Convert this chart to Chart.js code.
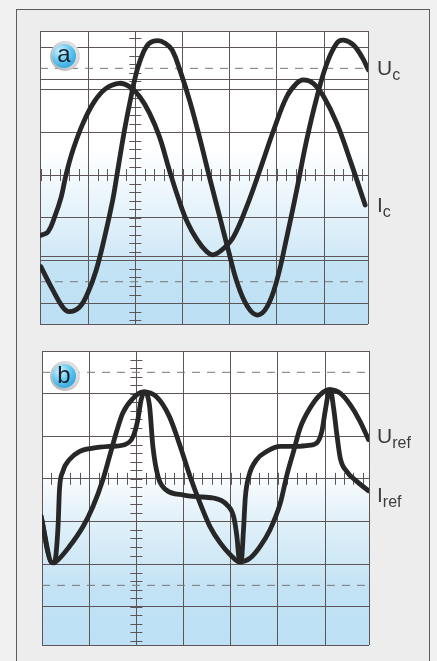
<!DOCTYPE html>
<html>
<head>
<meta charset="utf-8">
<script src="https://cdn.jsdelivr.net/npm/chart.js@4.4.0/dist/chart.umd.min.js"></script>
<style>
  html, body { margin: 0; padding: 0; }
  body { width: 437px; height: 661px; background: #f1f1f1; position: relative; overflow: hidden;
         font-family: "Liberation Sans", Arial, sans-serif; }
  #frame { position: absolute; left: 16px; top: 9px; width: 412px; height: 700px;
           border: 1px solid #5c5c5c; background: #ededee; }
  .scope { position: absolute; }
  .lbl { position: absolute; font-size: 21px; line-height: 21px; color: #3d3d3d; white-space: nowrap; }
  .lbl span { font-size: 16px; position: relative; top: 5px; }
  .badge { position: absolute; width: 30px; height: 30px; border-radius: 50%; z-index: 5;
           background: radial-gradient(circle at 60% 40%, #f6f6f6 0%, #d2d2d2 55%, #8e8e8e 100%); }
  .badge .core { position: absolute; left: 2px; top: 3px; width: 24px; height: 24px; border-radius: 50%;
           background: radial-gradient(circle at 35% 30%, #d4f3ff 0%, #62c7f0 45%, #1590d3 100%);
           display: flex; align-items: center; justify-content: center;
           font-size: 24px; color: #17232f; }
</style>
</head>
<body>
<div id="frame"></div>

<div class="scope" style="left:30px; top:21px; width:348px; height:313px;"><canvas id="scopeA"></canvas></div>
<div class="scope" style="left:32px; top:341px; width:347px; height:314px;"><canvas id="scopeB"></canvas></div>

<div class="badge" style="left:50px; top:41px;"><div class="core"><b style="font-weight:normal; margin-top:-4px;">a</b></div></div>
<div class="badge" style="left:50px; top:361px;"><div class="core"><b style="font-weight:normal; margin-top:-2px;">b</b></div></div>

<div class="lbl" style="left:377px; top:57px;">U<span>c</span></div>
<div class="lbl" style="left:377px; top:194px;">I<span>c</span></div>
<div class="lbl" style="left:377px; top:425px;">U<span>ref</span></div>
<div class="lbl" style="left:377px; top:484px;">I<span>ref</span></div>

<script>
// Oszilloskop-Bilder: x und y in Skalenteilen (Division), y = 0 ist die Mittellinie

// --- Bild a: Kondensator ---
const ucX = [0.00, 0.25, 0.46, 0.60, 0.82, 0.99, 1.17, 1.35, 1.52, 1.61, 1.77, 1.91, 2.02, 2.16, 2.30, 2.48, 2.63, 2.78, 2.95, 3.16,
             3.37, 3.58, 3.80, 3.97, 4.16, 4.37, 4.58, 4.79, 5.00, 5.21, 5.42, 5.63, 5.85, 6.06, 6.27, 6.41, 6.62, 6.80, 6.94];
const ucY = [-2.15, -2.69, -3.09, -3.20, -3.09, -2.77, -2.23, -1.45, -0.59, 0.00, 1.05, 1.84, 2.39, 2.85, 3.09, 3.15, 3.09, 2.93, 2.44, 1.71,
             0.84, -0.09, -1.03, -1.76, -2.53, -3.07, -3.28, -3.09, -2.46, -1.45, -0.35, 0.82, 1.84, 2.62, 3.09, 3.16, 3.05, 2.77, 2.46];

const icX = [0.00, 0.15, 0.29, 0.43, 0.53, 0.68, 0.89, 1.13, 1.38, 1.66, 1.88, 2.09, 2.30, 2.51, 2.72, 2.91, 3.10, 3.31, 3.50, 3.65,
             3.87, 4.08, 4.36, 4.64, 4.93, 5.21, 5.42, 5.56, 5.77, 5.99, 6.27, 6.55, 6.87];
const icY = [-1.41, -1.33, -0.98, -0.51, 0.00, 0.59, 1.21, 1.72, 2.03, 2.15, 2.07, 1.84, 1.45, 0.90, 0.12, -0.54, -1.10, -1.52, -1.78, -1.87,
             -1.72, -1.45, -0.74, 0.12, 1.05, 1.84, 2.15, 2.23, 2.15, 1.84, 1.21, 0.35, -0.70];

// --- Bild b: Referenz ---
const urefX = [-0.02, 0.22, 0.30, 0.58, 0.87, 1.08, 1.29, 1.43, 1.57, 1.71, 1.93, 2.14, 2.42, 2.70, 2.93, 3.14, 3.35, 3.56, 3.78, 3.99,
               4.18, 4.41, 4.62, 4.83, 5.05, 5.19, 5.33, 5.47, 5.68, 5.89, 6.09, 6.32, 6.53, 6.74, 6.92];
const urefY = [-0.88, -1.97, -1.94, -1.59, -1.12, -0.65, -0.02, 0.52, 1.07, 1.54, 1.89, 2.04, 1.93, 1.46, 0.76, 0.05, -0.57, -1.12, -1.51, -1.78,
               -1.95, -1.86, -1.59, -1.20, -0.57, 0.09, 0.64, 1.19, 1.66, 1.97, 2.09, 2.01, 1.74, 1.35, 0.92];

const irefX = [-0.02, 0.19, 0.26, 0.34, 0.37, 0.44, 0.58, 0.79, 1.08, 1.43, 1.75, 1.93, 2.03, 2.10, 2.17, 2.28, 2.35, 2.46, 2.63, 3.00,
               3.28, 3.63, 3.92, 4.06, 4.13, 4.18, 4.22, 4.27, 4.31, 4.38, 4.55, 4.76, 5.05, 5.33, 5.61, 5.82, 5.93, 6.00, 6.07, 6.11,
               6.18, 6.25, 6.32, 6.46, 6.67, 6.92];
const irefY = [-0.88, -1.95, -1.97, -1.12, -0.26, 0.17, 0.45, 0.64, 0.72, 0.76, 0.80, 0.99, 1.38, 1.85, 2.04, 1.70, 0.76, 0.05, -0.26, -0.38,
               -0.42, -0.45, -0.61, -0.88, -1.35, -1.90, -1.95, -1.20, -0.42, 0.05, 0.45, 0.64, 0.76, 0.76, 0.78, 0.84, 1.11, 1.58, 2.01, 2.09,
               1.66, 1.03, 0.49, 0.17, -0.06, -0.28];

// Raster
const gridX = [1, 2, 3, 4, 5, 6];
const gridYA = [-3, -2, -1.9, -1, 0, 1, 2, 2.25, 3];   // Doppellinien wie im Druck
const gridYB = [-3, -2, -1, 0, 1, 2];
const dashY = [-2.5, 2.5];

const TRACE = '#272727';
const GRID = '#5e5656';

const toXY = (xs, ys) => xs.map((x, i) => ({ x: x, y: ys[i] }));

// Bildschirm-Hintergrund (weiss -> hellblau)
const screenFill = {
    id: 'screenFill',
    beforeDraw(chart, args, opts) {
        const { ctx, chartArea: a } = chart;
        const g = ctx.createLinearGradient(0, a.top, 0, a.bottom);
        opts.stops.forEach(s => g.addColorStop(s[0], s[1]));
        ctx.save();
        ctx.fillStyle = g;
        ctx.fillRect(a.left, a.top, a.right - a.left, a.bottom - a.top);
        ctx.restore();
    }
};

// Feinteilung auf den Mittelachsen (5 Teile je Division)
const scopeTicks = {
    id: 'scopeTicks',
    beforeDatasetsDraw(chart) {
        const { ctx, scales: { x, y } } = chart;
        const cx = x.getPixelForValue(2), cy = y.getPixelForValue(0);
        ctx.save();
        ctx.strokeStyle = GRID;
        ctx.lineWidth = 1;
        ctx.beginPath();
        for (let v = Math.ceil(y.min * 5) / 5; v <= y.max; v += 0.2) {
            const py = Math.round(y.getPixelForValue(v)) + 0.5;
            ctx.moveTo(cx - 6, py); ctx.lineTo(cx + 6, py);
        }
        for (let v = Math.ceil(x.min * 5) / 5; v <= x.max; v += 0.2) {
            const px = Math.round(x.getPixelForValue(v)) + 0.5;
            ctx.moveTo(px, cy - 6); ctx.lineTo(px, cy + 6);
        }
        ctx.stroke();
        ctx.restore();
    }
};

// smooth: true -> Bezier (Bild a), sonst monoton (Spitzen in Bild b)
function traceSet(data, smooth) {
    const ds = {
        data: data, borderColor: TRACE, borderWidth: 4.8, pointRadius: 0,
        borderCapStyle: 'round', borderJoinStyle: 'round', clip: 0, order: 1
    };
    if (smooth) ds.tension = 0.4;
    else ds.cubicInterpolationMode = 'monotone';
    return ds;
}

function dashSet(v, xMin, xMax) {
    return {
        data: [{ x: xMin, y: v }, { x: xMax, y: v }], borderColor: '#7b7676', borderWidth: 1,
        borderDash: [8, 7], pointRadius: 0, order: 2
    };
}

function makeScope(id, traces, smooth, xMin, xMax, yMin, yMax, gridY, stops) {
    const ctx = document.getElementById(id);
    if (!ctx) return;
    new Chart(ctx, {
        type: 'line',
        data: {
            datasets: dashY.map(v => dashSet(v, xMin, xMax)).concat(traces.map(t => traceSet(t, smooth)))
        },
        options: {
            responsive: true, maintainAspectRatio: false, animation: false, events: [],
            layout: { padding: 10 },
            plugins: { legend: { display: false }, tooltip: { enabled: false }, screenFill: { stops: stops } },
            scales: {
                x: {
                    type: 'linear', min: xMin, max: xMax,
                    afterBuildTicks: s => { s.ticks = [xMin].concat(gridX, [xMax]).map(v => ({ value: v })); },
                    ticks: { display: false },
                    grid: { color: GRID, lineWidth: 1, drawTicks: false },
                    border: { display: false }
                },
                y: {
                    type: 'linear', min: yMin, max: yMax,
                    afterBuildTicks: s => { s.ticks = [yMin].concat(gridY, [yMax]).map(v => ({ value: v })); },
                    ticks: { display: false },
                    grid: { color: GRID, lineWidth: 1, drawTicks: false },
                    border: { display: false }
                }
            }
        },
        plugins: [screenFill, scopeTicks]
    });
}

makeScope('scopeA', [toXY(ucX, ucY), toXY(icX, icY)], true, -0.02, 6.93, -3.49, 3.375, gridYA,
    [[0, '#ffffff'], [0.40, '#ffffff'], [0.64, '#e2f1fa'], [0.77, '#d0e9f7'], [0.79, '#c4e4f5'], [1, '#bcdff3']]);

makeScope('scopeB', [toXY(urefX, urefY), toXY(irefX, irefY)], false, 0, 6.93, -3.9, 3.0, gridYB,
    [[0, '#ffffff'], [0.40, '#ffffff'], [0.58, '#e0f0f9'], [0.72, '#cfe8f6'], [0.80, '#c3e3f5'], [1, '#bde0f4']]);
</script>
</body>
</html>
